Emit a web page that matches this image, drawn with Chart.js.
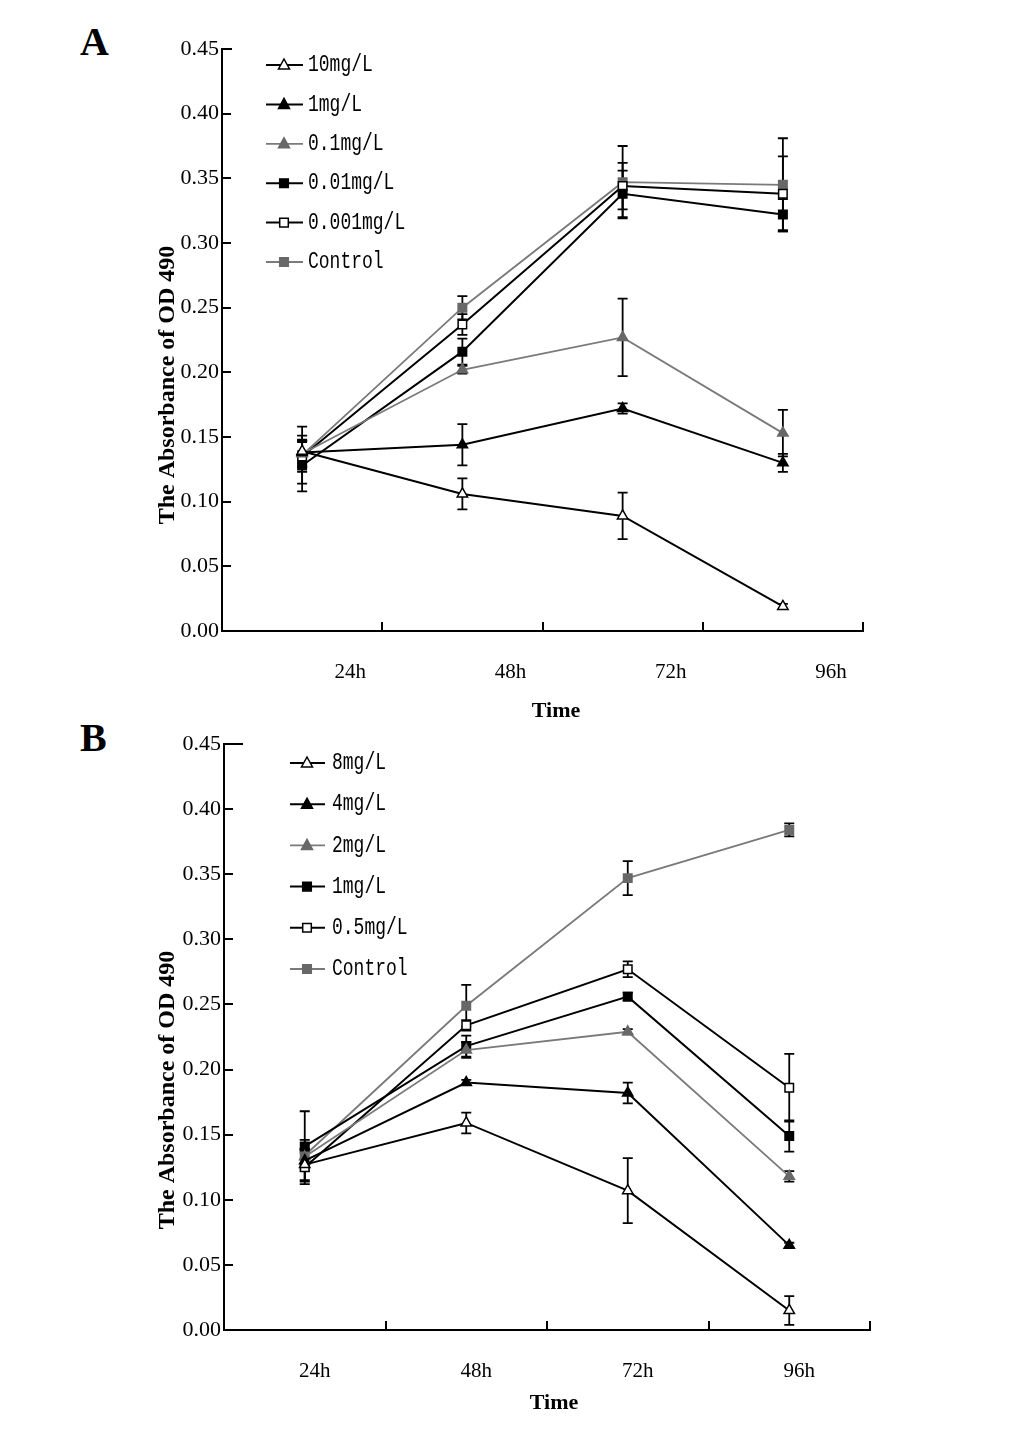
<!DOCTYPE html>
<html><head><meta charset="utf-8">
<script src="https://cdn.jsdelivr.net/npm/chart.js@4.4.1/dist/chart.umd.min.js"></script>
<style>
html,body{margin:0;padding:0;background:#fff;}
body{width:1033px;height:1430px;position:relative;overflow:hidden;}
.wrap{position:absolute;left:0;width:1033px;}
.plabel{position:absolute;font-family:"Liberation Serif";font-weight:bold;font-size:40px;line-height:40px;color:#000;}
</style></head><body>
<div class="plabel" style="left:80px;top:22px">A</div>
<div class="plabel" style="left:80px;top:718px">B</div>
<div class="wrap" style="top:0;height:730px"><canvas id="chartA" width="1033" height="730"></canvas></div>
<div class="wrap" style="top:720px;height:710px"><canvas id="chartB" width="1033" height="710"></canvas></div>
<script>
// ---------- data ----------
const timeLabels = ['24h', '48h', '72h', '96h'];
const yMin = 0, yMax = 0.45, yStep = 0.05;
const yTitle = 'The Absorbance of OD 490';
const xTitle = 'Time';

// Panel A
const namesA = ['10mg/L', '1mg/L', '0.1mg/L', '0.01mg/L', '0.001mg/L', 'Control'];
const a10mg = [0.139, 0.106, 0.089, 0.019];
const a10mgErr = [0.012, 0.012, 0.018, 0.002];
const a1mg = [0.138, 0.144, 0.172, 0.130];
const a1mgErr = [0.008, 0.016, 0.004, 0.007];
const a01mg = [0.137, 0.202, 0.227, 0.153];
const a01mgErr = [0.010, 0.003, 0.030, 0.018];
const a001mg = [0.128, 0.216, 0.338, 0.322];
const a001mgErr = [0.020, 0.010, 0.018, 0.012];
const a0001mg = [0.135, 0.237, 0.344, 0.338];
const a0001mgErr = [0.012, 0.008, 0.018, 0.029];
const aControl = [0.136, 0.250, 0.347, 0.345];
const aControlErr = [0.022, 0.009, 0.028, 0.036];

// Panel B
const namesB = ['8mg/L', '4mg/L', '2mg/L', '1mg/L', '0.5mg/L', 'Control'];
const b8mg = [0.127, 0.159, 0.107, 0.015];
const b8mgErr = [0.012, 0.008, 0.025, 0.011];
const b4mg = [0.130, 0.190, 0.182, 0.065];
const b4mgErr = [0.006, 0.002, 0.008, 0.002];
const b2mg = [0.133, 0.215, 0.229, 0.118];
const b2mgErr = [0.006, 0.006, 0.002, 0.004];
const b1mg = [0.141, 0.218, 0.256, 0.149];
const b1mgErr = [0.027, 0.008, 0.003, 0.012];
const b05mg = [0.125, 0.234, 0.277, 0.186];
const b05mgErr = [0.013, 0.004, 0.006, 0.026];
const bControl = [0.134, 0.249, 0.347, 0.384];
const bControlErr = [0.012, 0.016, 0.013, 0.005];

// ---------- styles ----------
const BLACK = '#000000', GRAY_LINE = '#7a7a7a', GRAY_MARK = '#686868';
const seriesStyles = [
  {line: BLACK, border: BLACK, fill: '#ffffff', shape: 'triangle', lw: 2},
  {line: BLACK, border: BLACK, fill: BLACK, shape: 'triangle', lw: 2},
  {line: GRAY_LINE, border: GRAY_MARK, fill: GRAY_MARK, shape: 'triangle', lw: 1.8},
  {line: BLACK, border: BLACK, fill: BLACK, shape: 'rect', lw: 2},
  {line: BLACK, border: BLACK, fill: '#ffffff', shape: 'rect', lw: 2},
  {line: GRAY_LINE, border: GRAY_MARK, fill: GRAY_MARK, shape: 'rect', lw: 1.8}
];

function makeDatasets(names, values, errs) {
  return names.map((n, i) => {
    const s = seriesStyles[i];
    return {
      label: n, data: values[i], errors: errs[i],
      borderColor: s.line, borderWidth: s.lw, tension: 0, fill: false,
      pointStyle: s.shape, pointRadius: 6,
      pointBackgroundColor: s.fill, pointBorderColor: s.border, pointBorderWidth: 1.5,
      pointHoverRadius: 6
    };
  });
}

function drawMarker(ctx, shape, x, y, fill, border) {
  ctx.save();
  ctx.fillStyle = fill; ctx.strokeStyle = border; ctx.lineWidth = 1.5;
  ctx.beginPath();
  if (shape === 'triangle') {
    ctx.moveTo(x, y - 6); ctx.lineTo(x + 5.5, y + 4); ctx.lineTo(x - 5.5, y + 4); ctx.closePath();
  } else {
    ctx.rect(x - 4.3, y - 4.3, 8.6, 8.6);
  }
  ctx.fill(); ctx.stroke();
  ctx.restore();
}

const decorPlugin = {
  id: 'decor',
  beforeDatasetsDraw(chart, args, o) {
    const ctx = chart.ctx, ys = chart.scales.y;
    ctx.save();
    ctx.strokeStyle = '#000'; ctx.lineWidth = 1.8;
    chart.data.datasets.forEach((ds, i) => {
      const meta = chart.getDatasetMeta(i);
      ds.data.forEach((v, j) => {
        const e = ds.errors[j];
        const x = meta.data[j].x;
        const yt = ys.getPixelForValue(v + e), yb = ys.getPixelForValue(v - e);
        ctx.beginPath();
        ctx.moveTo(x, yt); ctx.lineTo(x, yb);
        ctx.moveTo(x - 5, yt); ctx.lineTo(x + 5, yt);
        ctx.moveTo(x - 5, yb); ctx.lineTo(x + 5, yb);
        ctx.stroke();
      });
    });
    ctx.restore();
  },
  afterDraw(chart, args, o) {
    const ctx = chart.ctx, xs = chart.scales.x, ys = chart.scales.y, ca = chart.chartArea;
    ctx.save();
    ctx.strokeStyle = '#000'; ctx.lineWidth = 2;
    // inward y ticks
    ys.ticks.forEach((t, k) => {
      if (t.value === 0) return;
      const y = Math.round(ys.getPixelForValue(t.value));
      const len = (k === ys.ticks.length - 1) ? o.topTickLen : 9;
      ctx.beginPath(); ctx.moveTo(ca.left, y); ctx.lineTo(ca.left + len, y); ctx.stroke();
    });
    // inward x ticks at category boundaries
    const n = xs.getLabels().length;
    for (let i = 1; i <= n; i++) {
      const x = Math.round(xs.left + i * xs.width / n);
      ctx.beginPath(); ctx.moveTo(x, ca.bottom); ctx.lineTo(x, ca.bottom - 9); ctx.stroke();
    }
    // axis titles
    ctx.fillStyle = '#000';
    ctx.font = 'bold 24px "Liberation Serif"';
    ctx.textAlign = 'center'; ctx.textBaseline = 'middle';
    ctx.save();
    ctx.translate(o.yTitleX, o.yTitleY); ctx.rotate(-Math.PI / 2);
    ctx.fillText(yTitle, 0, 0);
    ctx.restore();
    ctx.font = 'bold 22px "Liberation Serif"';
    ctx.fillText(xTitle, o.xTitleX, o.xTitleY);
    // legend
    const L = o.legend;
    chart.data.datasets.forEach((ds, i) => {
      const s = seriesStyles[i];
      const y = L.y0 + i * L.dy;
      ctx.strokeStyle = s.line; ctx.lineWidth = s.lw;
      ctx.beginPath(); ctx.moveTo(L.x0, y); ctx.lineTo(L.x1, y); ctx.stroke();
      drawMarker(ctx, s.shape, L.mx, y, s.fill, s.border);
      ctx.save();
      ctx.fillStyle = '#000';
      ctx.font = '18px "Liberation Mono"';
      ctx.textAlign = 'left'; ctx.textBaseline = 'middle';
      ctx.translate(L.tx, y); ctx.scale(1, 1.32);
      ctx.fillText(ds.label, 0, 0);
      ctx.restore();
    });
    ctx.restore();
  }
};

function makeChart(id, names, values, errs, cfg) {
  return new Chart(document.getElementById(id), {
    type: 'line',
    data: {labels: timeLabels, datasets: makeDatasets(names, values, errs)},
    options: {
      responsive: false, animation: false, devicePixelRatio: 1,
      layout: {padding: cfg.padding},
      plugins: {legend: {display: false}, tooltip: {enabled: false}, decor: cfg.decor},
      scales: {
        x: {
          type: 'category', offset: true,
          grid: {display: false, drawTicks: false, offset: true},
          border: {display: true, color: '#000', width: 2},
          ticks: {color: '#000', font: {family: 'Liberation Serif', size: 21}, padding: cfg.xPad, labelOffset: cfg.labelOffset, maxRotation: 0, autoSkip: false},
          afterFit(s) { s.height = cfg.xHeight; }
        },
        y: {
          min: yMin, max: yMax,
          grid: {display: false, drawTicks: false},
          border: {display: true, color: '#000', width: 2},
          ticks: {stepSize: yStep, color: '#000', font: {family: 'Liberation Serif', size: 22}, padding: 3,
                  callback: v => Number(v).toFixed(2)},
          afterFit(s) { s.width = 72; }
        }
      }
    },
    plugins: [decorPlugin]
  });
}

makeChart('chartA', namesA,
  [a10mg, a1mg, a01mg, a001mg, a0001mg, aControl],
  [a10mgErr, a1mgErr, a01mgErr, a001mgErr, a0001mgErr, aControlErr],
  {padding: {top: 49, left: 150, right: 170, bottom: 0}, xHeight: 99, xPad: 29, labelOffset: 48,
   decor: {topTickLen: 10, yTitleX: 168, yTitleY: 385, xTitleX: 556, xTitleY: 711,
           legend: {x0: 266, x1: 303, mx: 284, tx: 308, y0: 65, dy: 39.4}}});

makeChart('chartB', namesB,
  [b8mg, b4mg, b2mg, b1mg, b05mg, bControl],
  [b8mgErr, b4mgErr, b2mgErr, b1mgErr, b05mgErr, bControlErr],
  {padding: {top: 24, left: 152, right: 163, bottom: 0}, xHeight: 100, xPad: 29, labelOffset: 10,
   decor: {topTickLen: 19, yTitleX: 168, yTitleY: 370, xTitleX: 554, xTitleY: 683,
           legend: {x0: 290, x1: 325, mx: 307, tx: 332, y0: 43, dy: 41.2}}});
</script>
</body></html>
